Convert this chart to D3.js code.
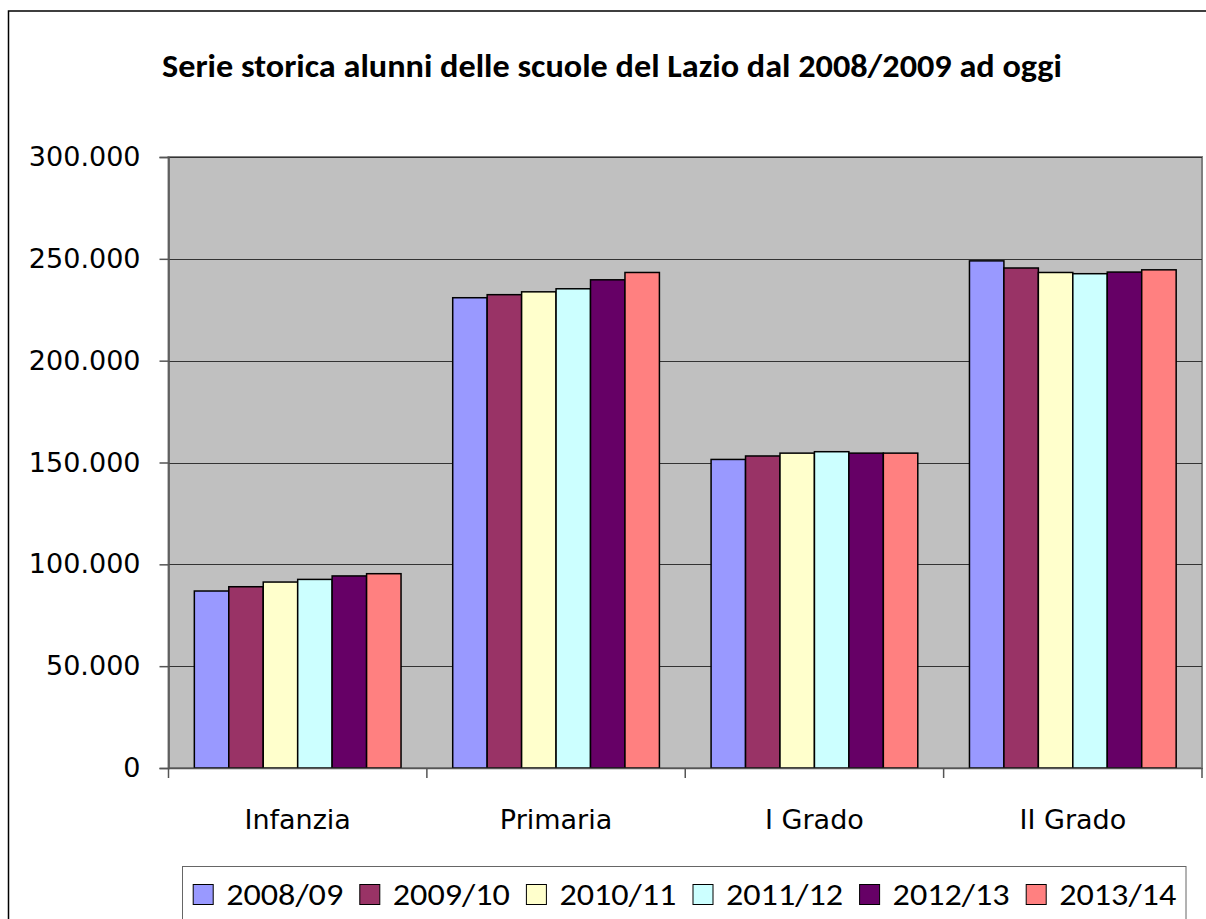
<!DOCTYPE html>
<html>
<head>
<meta charset="utf-8">
<script src="https://cdn.jsdelivr.net/npm/d3@7"></script>
<style>
  body { margin: 0; background: #fff; }
  svg { display: block; }
</style>
</head>
<body>
<div id="chart"></div>
<script>
const categories = ["Infanzia", "Primaria", "I Grado", "II Grado"];
const years = ["2008/09", "2009/10", "2010/11", "2011/12", "2012/13", "2013/14"];
const colors = ["#9999FF", "#993366", "#FFFFCC", "#CCFFFF", "#660066", "#FF8080"];

// alunni per anno, nell'ordine delle categorie
const v0809 = [86900, 230900, 151500, 249000];
const v0910 = [89000, 232400, 153200, 245500];
const v1011 = [91300, 233800, 154600, 243300];
const v1112 = [92600, 235300, 155300, 242700];
const v1213 = [94300, 239700, 154600, 243500];
const v1314 = [95400, 243300, 154600, 244600];
const seriesValues = [v0809, v0910, v1011, v1112, v1213, v1314];

const yTicks = [0, 50000, 100000, 150000, 200000, 250000, 300000];

const width = 1206, height = 919;
const plot = { left: 168.5, right: 1202, top: 157, bottom: 768 };

const svg = d3.select("#chart")
  .append("svg")
  .attr("width", width)
  .attr("height", height);

// cornice esterna
svg.append("rect")
  .attr("x", 8.5).attr("y", 11)
  .attr("width", width + 20).attr("height", height + 20)
  .attr("fill", "#fff")
  .attr("stroke", "#000")
  .attr("stroke-width", 1.5);

const it = d3.formatLocale({ decimal: ",", thousands: ".", grouping: [3], currency: ["", "€"] });
const fmt = it.format(",d");

const x0 = d3.scaleBand()
  .domain(categories)
  .range([plot.left, plot.right]);

const x1 = d3.scaleBand()
  .domain(years)
  .range([0, x0.bandwidth()])
  .paddingOuter(0.75);

const y = d3.scaleLinear()
  .domain([0, 300000])
  .range([plot.bottom, plot.top]);

// area del grafico
svg.append("rect")
  .attr("x", plot.left).attr("y", plot.top)
  .attr("width", plot.right - plot.left)
  .attr("height", plot.bottom - plot.top)
  .attr("fill", "#C0C0C0")
  .attr("stroke", "#808080")
  .attr("stroke-width", 2);

// griglia
svg.append("g")
  .selectAll("line")
  .data(yTicks.filter(d => d > 0))
  .join("line")
  .attr("x1", plot.left).attr("x2", plot.right)
  .attr("y1", d => Math.round(y(d)) + 0.5)
  .attr("y2", d => Math.round(y(d)) + 0.5)
  .attr("stroke", "#333")
  .attr("stroke-width", 1);

// barre
const groups = svg.append("g")
  .selectAll("g")
  .data(categories)
  .join("g")
  .attr("transform", c => `translate(${x0(c)},0)`);

groups.selectAll("rect")
  .data((c, i) => years.map((yr, j) => ({ yr, j, value: seriesValues[j][i] })))
  .join("rect")
  .attr("x", d => x1(d.yr))
  .attr("width", x1.bandwidth())
  .attr("y", d => y(d.value))
  .attr("height", d => y(0) - y(d.value))
  .attr("fill", d => colors[d.j])
  .attr("stroke", "#000")
  .attr("stroke-width", 1.5);

// asse y
const yAxis = svg.append("g")
  .attr("transform", `translate(${plot.left},0)`)
  .call(d3.axisLeft(y).tickValues(yTicks).tickFormat(fmt).tickSize(9).tickPadding(19));
yAxis.select(".domain").attr("stroke", "#555").attr("stroke-width", 1.5);
yAxis.selectAll(".tick line").attr("stroke", "#555").attr("stroke-width", 1.5);
yAxis.selectAll("text")
  .attr("font-family", "'DejaVu Sans', Verdana, sans-serif")
  .attr("font-size", 27)
  .attr("fill", "#000");

// asse x
const xAxis = svg.append("g")
  .attr("transform", `translate(0,${plot.bottom})`)
  .call(d3.axisBottom(x0).tickSize(0).tickPadding(42));
xAxis.select(".domain").attr("stroke", "#555").attr("stroke-width", 1.5);
xAxis.selectAll("text")
  .attr("font-family", "'DejaVu Sans', Verdana, sans-serif")
  .attr("font-size", 27)
  .attr("fill", "#000");

const bounds = categories.map(c => x0(c)).concat([x0(categories[categories.length - 1]) + x0.bandwidth()]);
xAxis.selectAll(".bound")
  .data(bounds)
  .join("line")
  .attr("class", "bound")
  .attr("x1", d => d).attr("x2", d => d)
  .attr("y1", 0).attr("y2", 10)
  .attr("stroke", "#555")
  .attr("stroke-width", 1.5);

// titolo
svg.append("text")
  .attr("x", 612)
  .attr("y", 77)
  .attr("text-anchor", "middle")
  .attr("font-family", "Carlito, 'Liberation Sans Narrow', 'Open Sans', sans-serif")
  .attr("font-weight", "bold")
  .attr("font-size", 32)
  .attr("textLength", 900)
  .attr("lengthAdjust", "spacingAndGlyphs")
  .text("Serie storica alunni delle scuole del Lazio dal 2008/2009 ad oggi");

// legenda
svg.append("rect")
  .attr("x", 182.5).attr("y", 866.5)
  .attr("width", 1186 - 182.5).attr("height", 80)
  .attr("fill", "#fff")
  .attr("stroke", "#666")
  .attr("stroke-width", 1);

const legendX = d3.scaleBand()
  .domain(years)
  .range([192.7, 192.7 + 166.6 * years.length]);

const item = svg.append("g")
  .selectAll("g")
  .data(years)
  .join("g")
  .attr("transform", d => `translate(${legendX(d)},0)`);

item.append("rect")
  .attr("x", 0.5).attr("y", 884.5)
  .attr("width", 20).attr("height", 20)
  .attr("fill", (d, i) => colors[i])
  .attr("stroke", "#000")
  .attr("stroke-width", 1);

item.append("text")
  .attr("x", 33.5)
  .attr("y", 905)
  .attr("font-family", "Carlito, 'Liberation Sans Narrow', 'Open Sans', sans-serif")
  .attr("font-size", 31)
  .attr("textLength", 117)
  .attr("lengthAdjust", "spacingAndGlyphs")
  .text(d => d);
</script>
</body>
</html>
